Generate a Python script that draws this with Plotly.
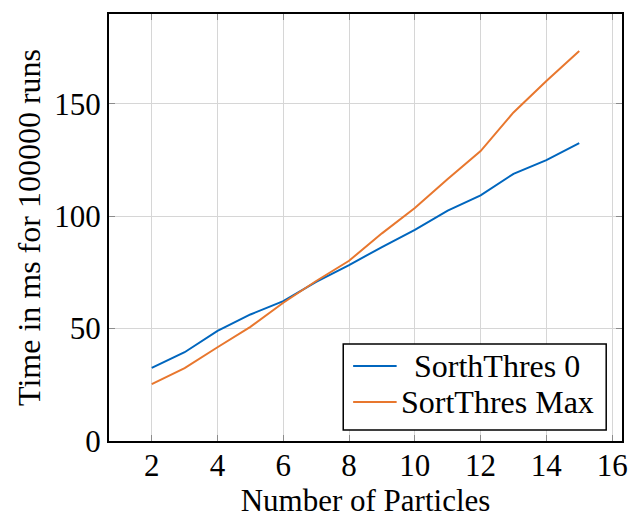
import plotly.graph_objects as go

# Number of particles per run
particles = [2, 3, 4, 5, 6, 7, 8, 9, 10, 11, 12, 13, 14, 15]

# Time in ms for 100000 runs
sort_thres_0 = [32.5, 39.5, 49.0, 56.3, 62.2, 70.8, 78.3, 86.3, 93.9, 102.5, 109.3, 118.9, 125.0, 132.5]
sort_thres_max = [25.3, 32.4, 41.7, 50.8, 61.5, 71.2, 80.2, 92.4, 103.7, 116.6, 129.0, 146.2, 160.2, 173.5]

series_names = ["SorthThres 0", "SortThres Max"]

x_ticks = [2, 4, 6, 8, 10, 12, 14, 16]
y_ticks = [0, 50, 100, 150]

FONT = "Liberation Serif"
BLUE = "#0066BE"
ORANGE = "#E8772E"
colors = [BLUE, ORANGE]

fig = go.Figure()
for name, ys, col in zip(series_names, [sort_thres_0, sort_thres_max], colors):
    fig.add_trace(go.Scatter(
        x=particles, y=ys, mode="lines", name=name,
        line=dict(color=col, width=2),
    ))

axis_common = dict(
    showline=True, linecolor="black", linewidth=2, mirror="ticks",
    ticks="inside", ticklen=6, tickcolor="#8c8c8c", tickwidth=1,
    showgrid=True, gridcolor="#d6d6d6", gridwidth=1,
    zeroline=False,
    tickfont=dict(family=FONT, size=31, color="black"),
)

# Legend box in the lower right, with centred entry labels
box = dict(x0=0.4566, x1=0.9692, y0=0.0258, y1=0.2272)
sample_x = (0.4759, 0.5607)
entry_y = [0.1756, 0.0913]
label_x = 0.7572

shapes = [dict(
    type="rect", xref="paper", yref="paper", **box,
    line=dict(color="black", width=1.5), fillcolor="white", layer="above",
)]
annotations = []
for name, col, yy in zip(series_names, colors, entry_y):
    shapes.append(dict(
        type="line", xref="paper", yref="paper",
        x0=sample_x[0], x1=sample_x[1], y0=yy, y1=yy,
        line=dict(color=col, width=2), layer="above",
    ))
    annotations.append(dict(
        xref="paper", yref="paper", x=label_x, y=yy,
        text=name, showarrow=False, xanchor="center", yanchor="middle",
        font=dict(family=FONT, size=32, color="black"),
    ))

fig.update_layout(
    width=634, height=520,
    margin=dict(l=109, r=6, t=14, b=79),
    paper_bgcolor="white", plot_bgcolor="white",
    font=dict(family=FONT, size=32, color="black"),
    xaxis=dict(
        range=[0.7, 16.3], tickvals=x_ticks, ticklabelstandoff=-4,
        title=dict(text="Number of Particles", font=dict(family=FONT, size=31), standoff=4),
        **axis_common,
    ),
    yaxis=dict(
        range=[0, 190], tickvals=y_ticks,
        title=dict(text="Time in ms for 100000 runs", font=dict(family=FONT, size=32), standoff=4),
        **axis_common,
    ),
    showlegend=False,
    shapes=shapes,
    annotations=annotations,
)

fig.write_html("out.html")
